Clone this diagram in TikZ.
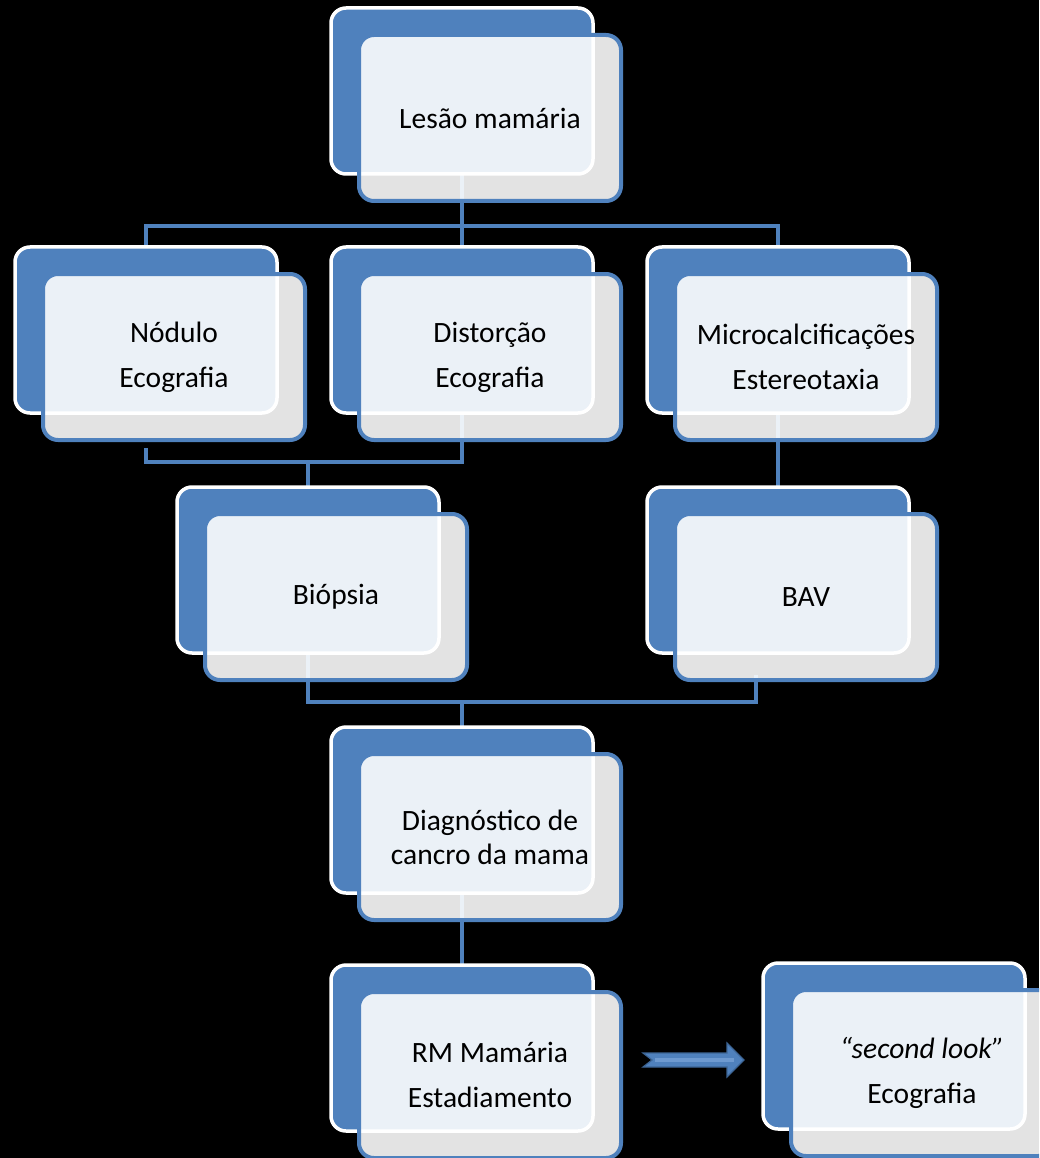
\documentclass[tikz,border=0pt]{standalone}
\usepackage{fontspec}
\setmainfont{Carlito}
\usepackage{tikz}

\definecolor{boxblue}{HTML}{4F81BD}
\definecolor{arrowedge}{HTML}{3C6494}
\definecolor{arrowlight}{HTML}{6E9AD0}

\pgfdeclarelayer{bg}
\pgfdeclarelayer{lines}
\pgfsetlayers{bg,lines,main}

\begin{document}
\begin{tikzpicture}[x = 1pt, y = -1pt,
  backbox/.style = {draw = white, line width = 3.5pt, fill = boxblue,
    rounded corners = 15pt, minimum width = 262pt, minimum height = 166pt},
  frontbox/.style = {draw = boxblue, line width = 4pt, fill = white,
    fill opacity = 0.89, draw opacity = 1, text opacity = 1,
    rounded corners = 15pt, minimum width = 262pt, minimum height = 166pt,
    align = center, font = \fontsize{29.5}{34}\selectfont},
  conn/.style = {draw = boxblue, line width = 4pt}]

\useasboundingbox (0, 0) rectangle (1039, 1158);
\clip (0, 0) rectangle (1039, 1158);

% boxes
\node[backbox] (lesaoB) at (462, 91) {};
\node[frontbox] (lesao) at (490, 118) {Lesão mamária};

\node[backbox] (noduloB) at (146, 330) {};
\node[frontbox] (nodulo) at (174, 357) {Nódulo\\[11pt]Ecografia};

\node[backbox] (distorcaoB) at (462, 330) {};
\node[frontbox] (distorcao) at (490, 357) {Distorção\\[11pt]Ecografia};

\node[backbox] (microB) at (778, 330) {};
\node[frontbox] (micro) at (806, 357) {Microcalcificações\\[11pt]Estereotaxia};

\node[backbox] (biopsiaB) at (308, 570) {};
\node[frontbox] (biopsia) at (336, 597) {Biópsia};

\node[backbox] (bavB) at (778, 570) {};
\node[frontbox] (bav) at (806, 597) {BAV};

\node[backbox] (diagB) at (462, 810) {};
\node[frontbox] (diag) at (490, 837) {Diagnóstico de\\cancro da mama};

\node[backbox] (rmB) at (462, 1048) {};
\node[frontbox] (rm) at (490, 1075) {RM Mamária\\[11pt]Estadiamento};

\node[backbox] (secondB) at (894, 1046) {};
\node[frontbox] (second) at (922, 1073) {\itshape “second look”\\[11pt]Ecografia};

% connectors, under the boxes
\begin{pgfonlayer}{lines}
\coordinate (topbus) at (462, 226);
\coordinate (midbus) at (308, 462);
\coordinate (lowbus) at (462, 702);
\coordinate (bavfoot) at (756, 675);

\draw[conn] (lesaoB.center) -- (topbus);
\draw[conn] (noduloB.center) |- (topbus) -| (microB.center);
\draw[conn] (distorcaoB.center) -- (topbus);

\draw[conn] ([yshift = -6pt]nodulo.south -| noduloB.center) |- (midbus) -| (distorcaoB.center);
\draw[conn] (midbus) -- (biopsiaB.center);
\draw[conn] (microB.center) -- (bavB.center);

\draw[conn] (biopsiaB.center) |- (lowbus) -| (bavfoot);
\draw[conn] (lowbus) -- (diagB.center);
\draw[conn] (diagB.center) -- (rmB.center);
\end{pgfonlayer}

% block arrow
\coordinate (arrtail) at (643, 1060);
\coordinate (arrtip) at (744, 1060);
\draw[fill = boxblue, draw = arrowedge, line width = 1.2pt, line join = miter]
  (arrtail) ++(0, -7) -- ++(84, 0) -- ++(0, -10) -- (arrtip)
  -- ++(-17, 17) -- ++(0, -10) -- ++(-84, 0) -- ++(9, -7) -- cycle;
\draw[arrowlight, line width = 4pt] ([xshift = 12pt]arrtail) -- ([xshift = -10pt]arrtip);

\begin{pgfonlayer}{bg}
\fill[black] (0, 0) rectangle (1039, 1158);
\end{pgfonlayer}

\end{tikzpicture}
\end{document}
